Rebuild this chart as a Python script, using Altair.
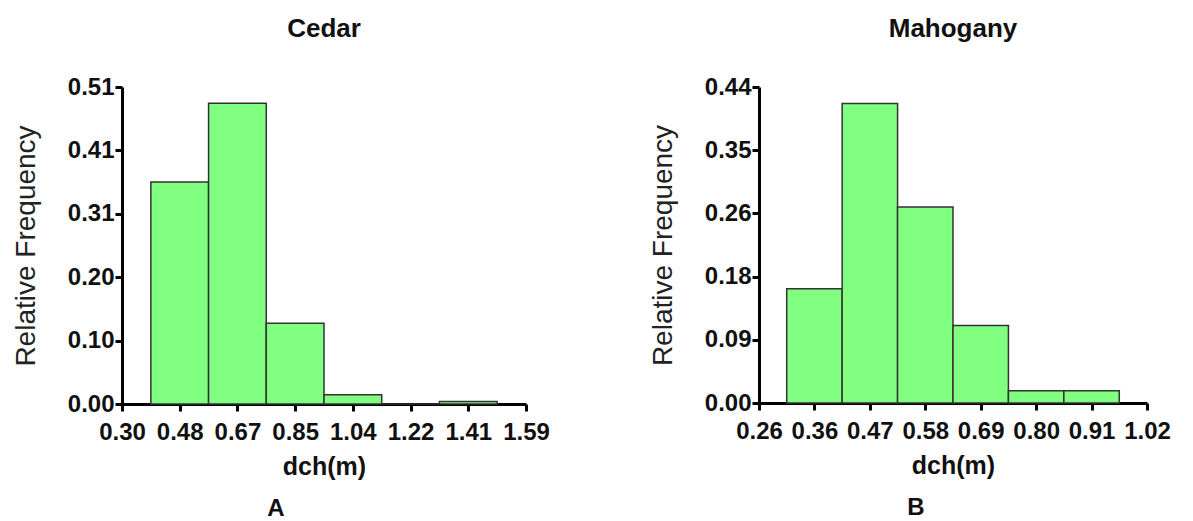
import altair as alt
import pandas as pd

FONT = "Liberation Sans"

# ---- Cedar (A) ----
cedar_x_labels = ["0.30", "0.48", "0.67", "0.85", "1.04", "1.22", "1.41", "1.59"]
cedar_x_lo, cedar_x_hi = 0.30, 1.59
cedar_freq = [0.357, 0.484, 0.130, 0.015, 0.0, 0.004]
cedar_y_labels = ["0.00", "0.10", "0.20", "0.31", "0.41", "0.51"]
cedar_y_max = 0.51

# ---- Mahogany (B) ----
mahog_x_labels = ["0.26", "0.36", "0.47", "0.58", "0.69", "0.80", "0.91", "1.02"]
mahog_x_lo, mahog_x_hi = 0.26, 1.02
mahog_freq = [0.159, 0.417, 0.273, 0.108, 0.017, 0.017]
mahog_y_labels = ["0.00", "0.09", "0.18", "0.26", "0.35", "0.44"]
mahog_y_max = 0.44


def label_expr(labels, lo, step):
    arr = "[" + ",".join("'%s'" % s for s in labels) + "]"
    return "%s[round((datum.value - %r) / %r)]" % (arr, lo, step)


def panel(title, letter, xlabels, lo, hi, freq, ylabels, ymax, width, height, letter_xy):
    nx = len(xlabels) - 1
    step = (hi - lo) / nx
    xticks = [lo + k * step for k in range(nx + 1)]
    ny = len(ylabels) - 1
    ystep = ymax / ny
    yticks = [k * ystep for k in range(ny + 1)]
    df = pd.DataFrame({
        "start": [lo + step * (i + 0.5) for i in range(len(freq))],
        "end": [lo + step * (i + 1.5) for i in range(len(freq))],
        "freq": freq,
    })
    common = dict(
        domainColor="black", domainWidth=3, tickColor="black", tickWidth=3,
        tickSize=7, labelFont=FONT, labelFontWeight="bold", labelFontSize=24,
        labelColor="#111", grid=False, titleFont=FONT,
        labelOverlap=False, labelBound=False,
    )
    bars = alt.Chart(df).mark_rect(
        fill="#80FF80", stroke="#333333", strokeWidth=1.5
    ).encode(
        x=alt.X("start:Q", scale=alt.Scale(domain=[lo, hi], nice=False, zero=False),
                axis=alt.Axis(values=xticks, labelExpr=label_expr(xlabels, lo, step),
                              title="dch(m)", titleFontSize=25, titleFontWeight="bold",
                              titleColor="#111",
                              titlePadding=10, labelFlush=False, labelPadding=9, **common)),
        x2="end:Q",
        y=alt.Y("freq:Q", scale=alt.Scale(domain=[0, ymax], nice=False),
                axis=alt.Axis(values=yticks, labelExpr=label_expr(ylabels, 0, ystep),
                              title="Relative Frequency", titleFontSize=28,
                              titleFontWeight="normal", titleColor="#222",
                              titlePadding=27, labelPadding=1, **common)),
        y2=alt.datum(0),
    )
    lab = alt.Chart(pd.DataFrame({"t": [letter]})).mark_text(
        font=FONT, fontSize=24, fontWeight="bold", color="#111"
    ).encode(text="t:N", x=alt.value(letter_xy[0]), y=alt.value(letter_xy[1]))
    return alt.layer(bars, lab).properties(
        width=width, height=height,
        title=alt.TitleParams(title, font=FONT, fontSize=26, fontWeight="bold",
                              color="#111", offset=33, anchor="middle"),
    )


left = panel("Cedar", "A", cedar_x_labels, cedar_x_lo, cedar_x_hi, cedar_freq,
             cedar_y_labels, cedar_y_max, 404, 317, (154, 422))
right = panel("Mahogany", "B", mahog_x_labels, mahog_x_lo, mahog_x_hi, mahog_freq,
              mahog_y_labels, mahog_y_max, 388, 316, (157, 421))

chart = alt.hconcat(left, right, spacing=99).properties(
    padding={"left": 4, "top": 8, "right": 5, "bottom": 2}
).configure_view(stroke=None)

chart.save("out.html", embed_options={"renderer": "svg", "actions": False})
